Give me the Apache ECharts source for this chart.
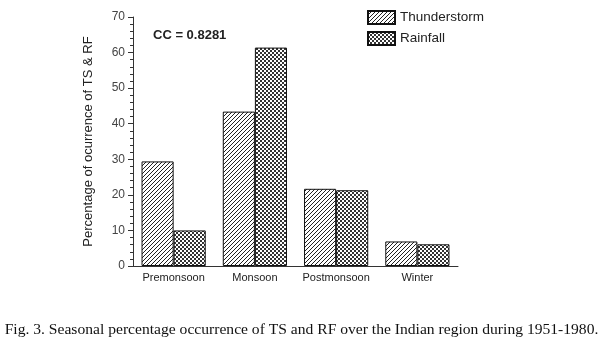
<!DOCTYPE html>
<html>
<head>
<meta charset="utf-8">
<script src="https://cdn.jsdelivr.net/npm/echarts@6/dist/echarts.min.js"></script>
<style>html,body{margin:0;padding:0;background:#fff;}#c{width:603px;height:342px;}</style>
</head>
<body>
<div id="c"></div>
<script>
var categories = ['Premonsoon', 'Monsoon', 'Postmonsoon', 'Winter'];
var thunderstorm = [29.4, 43.4, 21.7, 6.9];
var rainfall = [10.0, 61.4, 21.3, 6.1];
var yTicks = [0, 10, 20, 30, 40, 50, 60, 70];

function hatch() {
  var c = document.createElement('canvas');
  c.width = 4; c.height = 4;
  var g = c.getContext('2d');
  g.fillStyle = '#fff'; g.fillRect(0, 0, 4, 4);
  g.strokeStyle = '#222'; g.lineWidth = 1;
  g.beginPath();
  for (var k = -4; k <= 8; k += 4) { g.moveTo(k, 4); g.lineTo(k + 4, 0); }
  g.stroke();
  return c;
}
function cross() {
  var c = document.createElement('canvas');
  c.width = 4; c.height = 4;
  var g = c.getContext('2d');
  g.fillStyle = '#fff'; g.fillRect(0, 0, 4, 4);
  g.fillStyle = '#333';
  g.fillRect(0, 0, 2, 2); g.fillRect(2, 2, 2, 2);
  return c;
}

var chart = echarts.init(document.getElementById('c'), null, {renderer: 'canvas'});
chart.setOption({
  animation: false,
  backgroundColor: '#fff',
  textStyle: {fontFamily: 'Liberation Sans'},
  grid: {left: 133, right: 145, top: 17, bottom: 76},
  legend: {
    orient: 'vertical', left: 362, top: 5, itemWidth: 27, itemHeight: 13, itemGap: 6,
    icon: 'rect',
    textStyle: {fontSize: 13.5, color: '#222', fontFamily: 'Liberation Sans'},
    data: ['Thunderstorm', 'Rainfall']
  },
  xAxis: {
    type: 'category', data: categories,
    axisLine: {lineStyle: {color: '#333', width: 1}},
    axisTick: {show: false},
    axisLabel: {fontSize: 11, color: '#222', margin: 6, interval: 0}
  },
  yAxis: {
    type: 'value', min: yTicks[0], max: yTicks[yTicks.length - 1], interval: 10,
    name: 'Percentage of ocurrence of TS & RF', nameLocation: 'middle', nameGap: 38,
    nameTextStyle: {fontSize: 13, color: '#222'},
    axisLine: {show: true, lineStyle: {color: '#333'}},
    axisTick: {show: true, inside: false, length: 5, lineStyle: {color: '#333'}},
    minorTick: {show: true, splitNumber: 5, length: 3, lineStyle: {color: '#333'}},
    splitLine: {show: false},
    axisLabel: {fontSize: 12, color: '#444', margin: 8}
  },
  series: [
    {name: 'Thunderstorm', type: 'bar', data: thunderstorm, barGap: '0%', barCategoryGap: '21%',
     itemStyle: {color: {image: hatch(), repeat: 'repeat'}, borderColor: '#111', borderWidth: 1}},
    {name: 'Rainfall', type: 'bar', data: rainfall,
     itemStyle: {color: {image: cross(), repeat: 'repeat'}, borderColor: '#111', borderWidth: 1}}
  ],
  graphic: [
    {type: 'text', left: 153, top: 29, style: {text: 'CC = 0.8281', font: 'bold 13px "Liberation Sans"', fill: '#222'}},
    {type: 'text', left: 'center', top: 322, style: {text: 'Fig. 3. Seasonal percentage occurrence of TS and RF over the Indian region during 1951-1980.', font: '15.6px "Liberation Serif"', fill: '#111'}}
  ]
});
</script>
</body>
</html>
